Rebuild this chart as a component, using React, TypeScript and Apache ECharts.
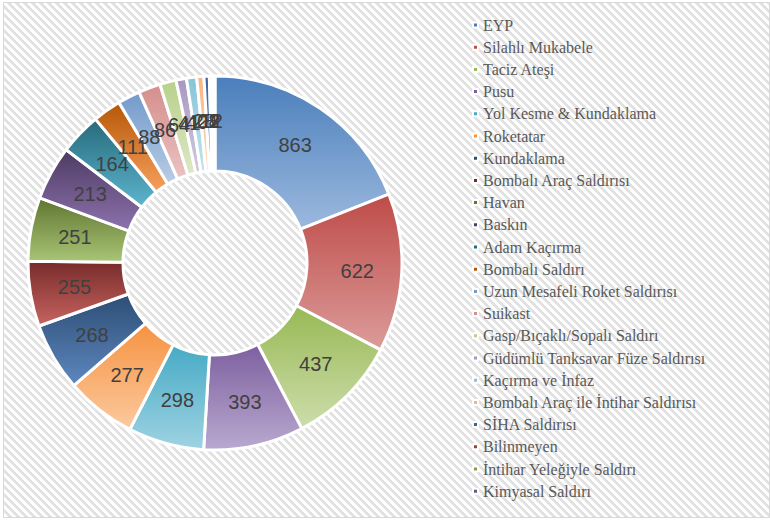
import React, { useEffect, useRef } from "react";
import * as echarts from "echarts";

const categories = [
  "EYP",
  "Silahlı Mukabele",
  "Taciz Ateşi",
  "Pusu",
  "Yol Kesme & Kundaklama",
  "Roketatar",
  "Kundaklama",
  "Bombalı Araç Saldırısı",
  "Havan",
  "Baskın",
  "Adam Kaçırma",
  "Bombalı Saldırı",
  "Uzun Mesafeli Roket Saldırısı",
  "Suikast",
  "Gasp/Bıçaklı/Sopalı Saldırı",
  "Güdümlü Tanksavar Füze Saldırısı",
  "Kaçırma ve İnfaz",
  "Bombalı Araç ile İntihar Saldırısı",
  "SİHA Saldırısı",
  "Bilinmeyen",
  "İntihar Yeleğiyle Saldırı",
  "Kimyasal Saldırı",
];

const values = [863, 622, 437, 393, 298, 277, 268, 255, 251, 213, 164, 111, 88, 86, 64, 41, 40, 28, 21, 12, 8, 2];

const topColors = [
  "#4A7EBB", "#BE4B48", "#98B954", "#7D60A0", "#46AAC5", "#F69240",
  "#2C4D75", "#772C2A", "#5F7530", "#4D3B62", "#276A7C", "#B65708",
  "#729ACA", "#D48E8C", "#B9D08A", "#A797C0", "#85C4D8", "#FAB57F",
  "#3A64A0", "#A0403D", "#7F9D44", "#67538A",
];
const bottomColors = [
  "#9CB9DE", "#DB9C9A", "#CDDDAC", "#B9A9CF", "#9FD3E2", "#FBCA9F",
  "#5F88C0", "#C86461", "#A9C576", "#8D72AE", "#5DB5CD", "#F7A05C",
  "#B9CDE6", "#EBC3C2", "#DCE8C5", "#D3CAE0", "#C6E5EE", "#FCDCC2",
  "#6F96C9", "#D06E6B", "#B4CF85", "#9F89BF",
];

export default function App() {
  const ref = useRef<HTMLDivElement>(null);
  useEffect(() => {
    if (!ref.current) return;
    const chart = echarts.init(ref.current, undefined, { renderer: "svg" });
    const data = categories.map((name, i) => ({
      name,
      value: values[i],
      itemStyle: {
        color: new echarts.graphic.LinearGradient(0, 0, 0, 1, [
          { offset: 0, color: topColors[i] },
          { offset: 1, color: bottomColors[i] },
        ]),
      },
    }));
    chart.setOption({
      animation: false,
      backgroundColor: "transparent",
      legend: {
        orient: "vertical",
        left: 467,
        top: 12,
        itemWidth: 5,
        itemHeight: 5,
        itemGap: 6.2,
        icon: "rect",
        data: categories.map((name, i) => ({
          name,
          itemStyle: { color: topColors[i] },
        })),
        textStyle: {
          fontFamily: "Liberation Serif",
          fontSize: 16,
          lineHeight: 16,
          color: "#595959",
        },
      },
      series: [
        {
          type: "pie",
          center: [215, 263],
          radius: [92, 187],
          startAngle: 90,
          clockwise: true,
          avoidLabelOverlap: false,
          labelLayout: { hideOverlap: false },
          itemStyle: { borderColor: "#ffffff", borderWidth: 3 },
          label: {
            show: true,
            position: "inside",
            formatter: "{c}",
            fontFamily: "Liberation Sans",
            fontSize: 20,
            color: "#404040",
          },
          labelLine: { show: false },
          emphasis: { disabled: true },
          data,
        },
      ],
    });
    return () => chart.dispose();
  }, []);

  return (
    <div style={{ position: "fixed", left: 0, top: 0, width: 770, height: 521, background: "#ffffff" }}>
      <div
        style={{
          position: "absolute",
          left: 3,
          top: 2,
          width: 765,
          height: 514,
          border: "1.5px solid #d9d9d9",
          background: "repeating-linear-gradient(45deg, #ffffff 0px, #ffffff 3px, #e2e2e2 3px, #e2e2e2 5.66px)",
        }}
      />
      <div ref={ref} style={{ position: "absolute", left: 0, top: 0, width: 770, height: 521 }} />
    </div>
  );
}
